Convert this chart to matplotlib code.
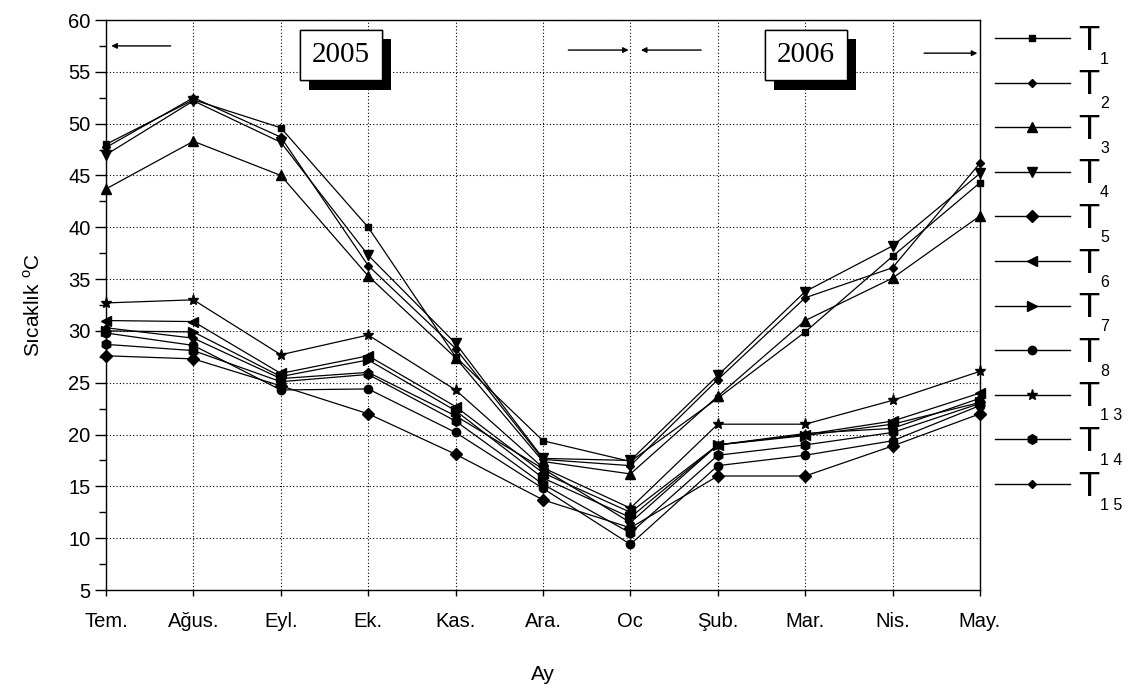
import matplotlib
matplotlib.use("Agg")
import matplotlib.pyplot as plt
import matplotlib.patheffects as pe

plt.rcParams["font.family"] = ["Liberation Sans", "DejaVu Sans"]
plt.rcParams["mathtext.fontset"] = "custom"
plt.rcParams["mathtext.rm"] = "Liberation Sans"

months = ["Tem.", "Ağus.", "Eyl.", "Ek.", "Kas.", "Ara.", "Oc", "Şub.", "Mar.", "Nis.", "May."]

# measured temperatures per probe (°C)
t1 = [48.0, 52.3, 49.6, 40.0, 27.5, 19.4, 17.4, 23.5, 29.9, 37.2, 44.3]
t2 = [47.7, 52.5, 48.7, 36.3, 28.3, 17.6, 17.0, 25.3, 33.2, 36.1, 46.2]
t3 = [43.7, 48.3, 45.0, 35.3, 27.4, 17.4, 16.2, 23.7, 31.0, 35.1, 41.1]
t4 = [47.0, 52.2, 48.2, 37.3, 28.8, 17.7, 17.5, 25.7, 33.8, 38.2, 45.2]
t5 = [27.6, 27.3, 24.7, 22.0, 18.1, 13.7, 11.0, 16.0, 16.0, 18.9, 22.0]
t6 = [31.0, 30.9, 25.9, 27.6, 22.7, 16.3, 12.5, 19.0, 20.0, 21.3, 24.0]
t7 = [30.0, 29.9, 25.6, 27.2, 22.3, 15.8, 12.0, 19.0, 19.9, 21.0, 23.1]
t8 = [29.8, 28.6, 24.3, 24.4, 20.2, 14.8, 9.4, 17.0, 18.0, 19.4, 22.8]
t13 = [32.7, 33.0, 27.7, 29.6, 24.3, 16.8, 12.9, 21.0, 21.0, 23.3, 26.1]
t14 = [28.7, 28.1, 25.1, 25.8, 21.3, 15.2, 10.5, 18.0, 19.0, 20.2, 23.0]
t15 = [30.3, 29.3, 25.4, 26.0, 21.8, 16.7, 11.5, 19.0, 20.1, 20.6, 23.5]

series = [
    ("1", t1, "s", 5),
    ("2", t2, "D", 4),
    ("3", t3, "^", 7),
    ("4", t4, "v", 7),
    ("5", t5, "D", 6),
    ("6", t6, "<", 7),
    ("7", t7, ">", 7),
    ("8", t8, "o", 6),
    ("1 3", t13, "*", 8),
    ("1 4", t14, "h", 7),
    ("1 5", t15, "D", 4),
]

fig = plt.figure(figsize=(11.33, 6.91), dpi=100)
ax = fig.add_axes([106 / 1133, 1 - 590 / 691, 874 / 1133, 570 / 691])

x = list(range(len(months)))
for sub, vals, mk, ms in series:
    ax.plot(x, vals, color="black", lw=0.9, marker=mk, markersize=ms,
            markerfacecolor="black", markeredgecolor="black", clip_on=False, zorder=3)

ax.set_xlim(0, 10)
ax.set_ylim(5, 60)
ax.set_xticks(x)
ax.set_xticklabels(months, fontsize=14.5)
ax.set_yticks(range(5, 61, 5))
ax.set_yticks([v + 2.5 for v in range(5, 60, 5)], minor=True)
ax.tick_params(axis="y", which="major", direction="out", length=8, width=1, labelsize=14.5, pad=3)
ax.tick_params(axis="y", which="minor", direction="out", length=5, width=1)
ax.tick_params(axis="x", direction="out", length=4, width=1, pad=12)
ax.grid(True, which="major", color="black", linestyle=(0, (1, 2)), lw=0.8)
for s in ax.spines.values():
    s.set_linewidth(1)

ax.set_xlabel("Ay", fontsize=15, labelpad=24)
ax.set_ylabel("Sıcaklık $^{\\mathrm{o}}$C", fontsize=15, labelpad=18)

# period arrows
arrow = dict(arrowstyle="-|>", color="black", lw=1, mutation_scale=8, shrinkA=0, shrinkB=0)
ax.annotate("", xy=(0.06, 57.5), xytext=(0.74, 57.5), arrowprops=arrow)
ax.annotate("", xy=(5.98, 57.1), xytext=(5.29, 57.1), arrowprops=arrow)
ax.annotate("", xy=(6.12, 57.1), xytext=(6.81, 57.1), arrowprops=arrow)
ax.annotate("", xy=(9.97, 56.8), xytext=(9.36, 56.8), arrowprops=arrow)

# year boxes with drop shadow
for label, xc in [("2005", 2.69), ("2006", 8.01)]:
    t = ax.text(xc, 56.6, label, ha="center", va="center", fontsize=21,
                family="Liberation Serif", zorder=5,
                bbox=dict(boxstyle="square,pad=0.42", fc="white", ec="black", lw=1))
    t.get_bbox_patch().set_path_effects(
        [pe.withSimplePatchShadow(offset=(6.5, -6.5), shadow_rgbFace="black", alpha=1), pe.Normal()])

# legend on the right
lax = fig.add_axes([0, 0, 1, 1], facecolor="none")
lax.set_xlim(0, 1133)
lax.set_ylim(691, 0)
lax.axis("off")
for i, (sub, vals, mk, ms) in enumerate(series):
    yy = 38 + i * 44.6
    lax.plot([995, 1032, 1070], [yy, yy, yy], color="black", lw=1, marker=mk,
             markersize=ms, markevery=[1], markerfacecolor="black")
    lax.text(1078, yy + 2, "T", fontsize=25, ha="left", va="center")
    lax.text(1100, yy + 21, sub, fontsize=11.5, ha="left", va="center")

fig.savefig("out.png", dpi=100)
